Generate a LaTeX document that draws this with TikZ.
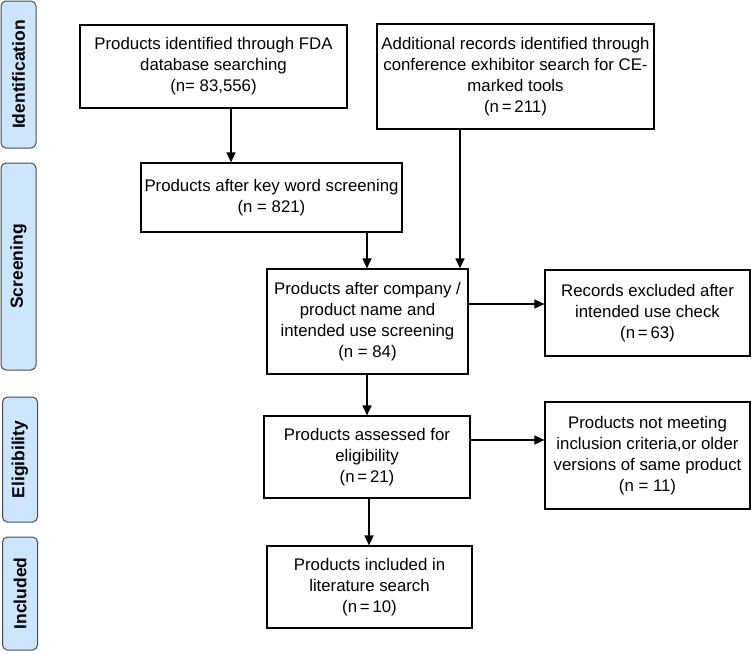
\documentclass[tikz,border=0pt]{standalone}
\usepackage{fontspec}
\setmainfont{Liberation Sans}
\usetikzlibrary{arrows.meta}
\definecolor{phaseblue}{RGB}{206,230,253}

\begin{document}
\begin{tikzpicture}[x=1pt,y=-1pt,
  box/.style={draw, line width=1.2pt, align=center, inner sep=0pt, font=\fontsize{16.8}{21}\selectfont},
  phase/.style={draw=black!70, fill=phaseblue, rounded corners=5pt, line width=1pt, inner sep=0pt, minimum height=35pt, rotate=90, font=\fontsize{17.5}{20}\selectfont\bfseries},
  arr/.style={-{Triangle[length=10pt,width=9pt]}, line width=1.6pt}]
\useasboundingbox (0,0) rectangle (751,653);

\node[phase, minimum width=147pt] (idf) at (18.5,74.5) {Identification};
\node[phase, minimum width=207pt] (scr) at (18.5,266.5) {Screening};
\node[phase, minimum width=125pt] (elg) at (20,459.5) {Eligibility};
\node[phase, minimum width=113pt] (inc) at (20,593.5) {Included};

\node[box, minimum width=267pt, minimum height=83pt] (fda) at (213.5,66.5) {Products identified through FDA\\database searching\\(n= 83,556)};
\node[box, minimum width=277pt, minimum height=105pt] (conf) at (515.5,76.5) {Additional records identified through\\conference exhibitor search for CE-\\marked tools\\(n\,=\,211)};
\node[box, minimum width=261pt, minimum height=69pt] (kw) at (271.5,197.5) {Products after key word screening\\(n = 821)};
\node[box, minimum width=201pt, minimum height=105pt] (name) at (367.5,321.5) {Products after company /\\product name and\\intended use screening\\(n = 84)};
\node[box, minimum width=205pt, minimum height=86pt] (excl) at (647.5,313) {Records excluded after\\intended use check\\(n\,=\,63)};
\node[box, minimum width=206pt, minimum height=82pt] (elig) at (367,457) {Products assessed for\\eligibility\\(n\,=\,21)};
\node[box, minimum width=205pt, minimum height=107pt] (notmeet) at (647.5,455.5) {Products not meeting\\inclusion criteria,or older\\versions of same product\\(n = 11)};
\node[box, minimum width=205pt, minimum height=82pt] (incl) at (369.5,587) {Products included in\\literature search\\(n\,=\,10)};

\draw[arr] (231,0 |- fda.south) -- (231,0 |- kw.north);
\draw[arr] (367,0 |- kw.south) -- (367,0 |- name.north);
\draw[arr] (460,0 |- conf.south) -- (460,0 |- name.north);
\draw[arr] (0,304 -| name.east) -- (0,304 -| excl.west);
\draw[arr] (367,0 |- name.south) -- (367,0 |- elig.north);
\draw[arr] (0,440 -| elig.east) -- (0,440 -| notmeet.west);
\draw[arr] (369,0 |- elig.south) -- (369,0 |- incl.north);
\end{tikzpicture}
\end{document}
